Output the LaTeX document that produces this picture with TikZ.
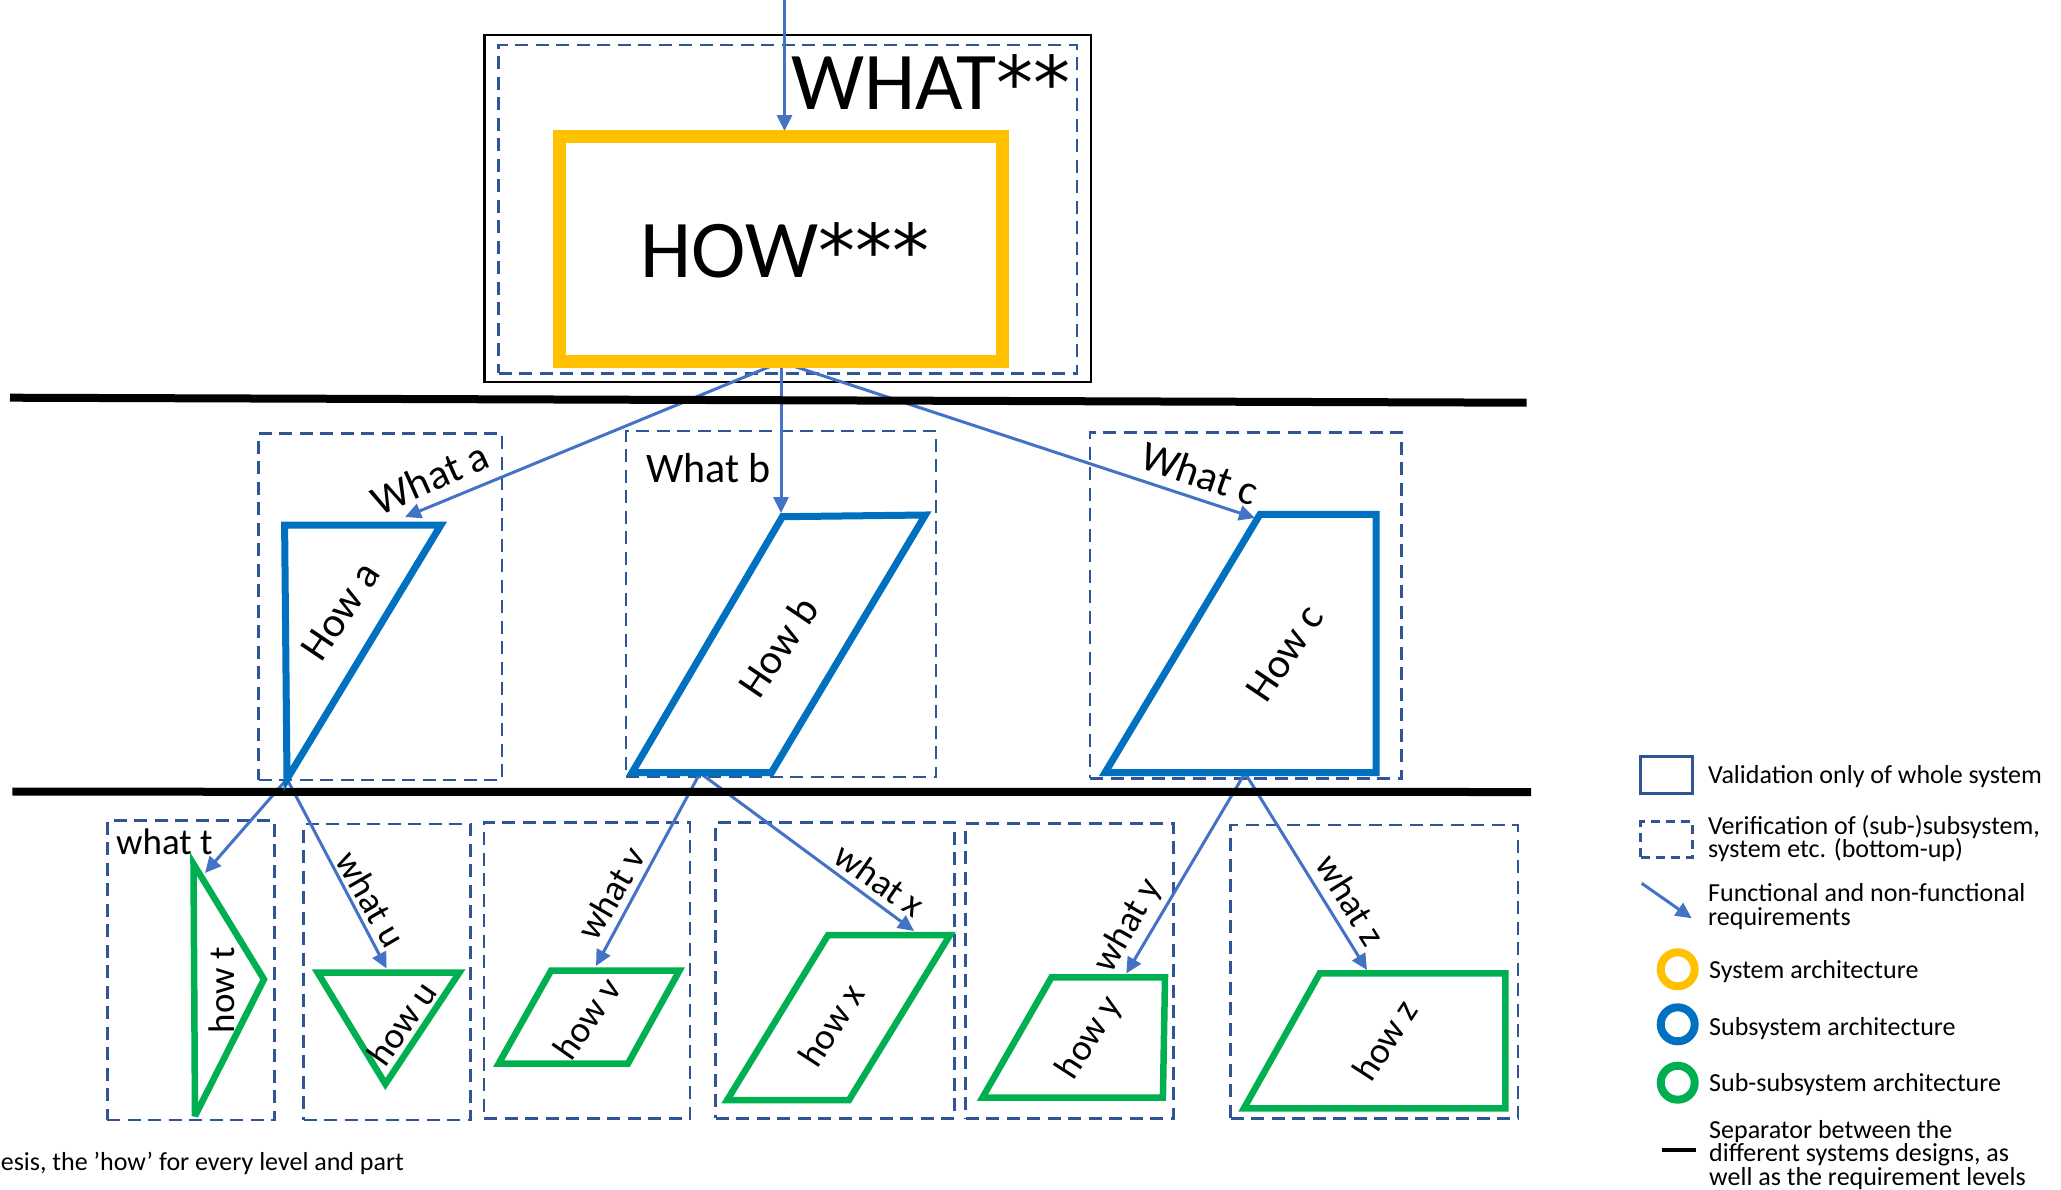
\documentclass[tikz,border=0pt]{standalone}
\usepackage{fontspec}
\setmainfont{Carlito}
\newfontfamily\astfont{DejaVu Sans}
\usetikzlibrary{arrows.meta}
\definecolor{sysorange}{HTML}{FFC000}
\definecolor{subblue}{HTML}{0070C0}
\definecolor{subgreen}{HTML}{00B050}
\definecolor{reqblue}{HTML}{4472C4}
\definecolor{verblue}{HTML}{2F5597}
\begin{document}
\begin{tikzpicture}[x=1pt,y=-1pt,
  verbox/.style={draw=verblue, line width=2.7pt, dash pattern=on 13pt off 7.5pt, inner sep=0pt, rectangle},
  valbox/.style={draw=black, line width=2.5pt, inner sep=0pt, rectangle},
  req/.style={draw=reqblue, line width=3pt, -{Triangle[length=16pt,width=15pt]}},
  sysshape/.style={draw=sysorange, line width=13pt, inner sep=0pt, rectangle},
  subshape/.style={draw=subblue, line width=7pt, line join=miter, miter limit=5},
  subsubshape/.style={draw=subgreen, line width=6.5pt, line join=miter, miter limit=4},
  sepline/.style={draw=black, line width=8pt},
  bigtxt/.style={inner sep=0pt, font=\fontsize{82}{90}\selectfont},
  midtxt/.style={inner sep=0pt, font=\fontsize{42}{48}\selectfont},
  lowtxt/.style={inner sep=0pt, font=\fontsize{37}{42}\selectfont},
  legtxt/.style={inner sep=0pt, anchor=base west, font=\fontsize{26}{28}\selectfont},
  legring/.style={circle, line width=8pt, minimum size=34pt, inner sep=0pt},
]
\fill[white] (0,0) rectangle (2061,1189);
\useasboundingbox (0,0) rectangle (2061,1189);

% ---------- top level ----------
\node[valbox, minimum width=606.2pt, minimum height=346.7pt] (outer) at (787.8,208.4) {};
\node[verbox, minimum width=578.4pt, minimum height=328.3pt] (topver) at (787.8,209.2) {};
\coordinate (topin) at (784.5,0);
\coordinate (howtop) at (784.5,131);
\coordinate (howbot) at (781,362);

% ---------- middle coordinates ----------
\coordinate (Ata) at (405,517);
\coordinate (Atb) at (781,513);
\coordinate (Atc) at (1255,518);
\coordinate (Abot) at (287,779);
\coordinate (Bbot) at (700,773);
\coordinate (Cbot) at (1245,773);

% ---------- bottom tips ----------
\coordinate (Tt) at (205,873);
\coordinate (Tu) at (386.6,968.5);
\coordinate (Tv) at (596,966);
\coordinate (Tx) at (914,931);
\coordinate (Ty) at (1126.3,973.5);
\coordinate (Tz) at (1367,970);

% ---------- dashed verification boxes ----------
\node[verbox, minimum width=243.2pt, minimum height=346.7pt] (va) at (380.4,606.7) {};
\node[verbox, minimum width=310pt, minimum height=346pt] (vb) at (781,604) {};
\node[verbox, minimum width=311.7pt, minimum height=346pt] (vc) at (1245.9,605.3) {};
\node[verbox, minimum width=167.6pt, minimum height=299.3pt] (vt) at (191,970.4) {};
\node[verbox, minimum width=167pt, minimum height=296pt] (vu) at (387,972) {};
\node[verbox, minimum width=206pt, minimum height=295.8pt] (vv) at (587,970.6) {};
\node[verbox, minimum width=238.8pt, minimum height=296pt] (vx) at (835.1,970.3) {};
\node[verbox, minimum width=207.6pt, minimum height=295pt] (vy) at (1069.5,970.8) {};
\node[verbox, minimum width=287.5pt, minimum height=293.5pt] (vz) at (1374.3,971.8) {};

% ---------- requirement arrows ----------
\draw[req] (topin) -- (howtop);
\draw[req] (howbot) -- (Ata);
\draw[req] (howbot) -- (Atb);
\draw[req] (howbot) -- (Atc);
\draw[req] (Abot) -- (Tt);
\draw[req] (Abot) -- (Tu);
\draw[req] (Bbot) -- (Tv);
\draw[req] (Bbot) -- (Tx);
\draw[req] (Cbot) -- (Ty);
\draw[req] (Cbot) -- (Tz);

% ---------- system architecture ----------
\node[sysshape, minimum width=443.4pt, minimum height=225.7pt] (how) at (780.7,248.9) {};
\node[bigtxt] (howlbl) at (785,250) {HOW{\astfont\fontsize{74}{80}\selectfont ***}};
\node[bigtxt] (whatlbl) at (931,82) {WHAT{\astfont\fontsize{74}{80}\selectfont **}};

% ---------- separators ----------
\draw[sepline] (10,397.7) coordinate (s1a) -- (1526.7,402.7) coordinate (s1b);
\draw[sepline] (12.3,791.7) coordinate (s2a) -- (1531,792) coordinate (s2b);

% ---------- subsystem shapes ----------
\draw[subshape] (284.6,525) -- (440.9,525) -- (Abot) -- cycle;
\draw[subshape] (782.4,516.7) -- (925.3,515) -- (771.3,772.7) -- (632,772.7) -- cycle;
\draw[subshape] (1260,514.3) -- (1376,514.3) -- (1376,772.7) -- (1105,772.7) -- cycle;

% ---------- sub-subsystem shapes ----------
\draw[subsubshape] (193.5,864) -- (264,979.3) -- (195,1116) -- cycle;
\draw[subsubshape] (317.7,972.7) -- (459.3,972.7) -- (385.4,1084) -- cycle;
\draw[subsubshape] (551,970.7) -- (679.4,970.7) -- (628,1063.5) -- (498.7,1063.5) -- cycle;
\draw[subsubshape] (828.1,935) -- (950,935) -- (849,1100) -- (727.2,1100) -- cycle;
\draw[subsubshape] (1051.5,977.3) -- (1165,977.3) -- (1162.9,1097.7) -- (982.4,1097.7) -- cycle;
\draw[subsubshape] (1319.8,973.3) -- (1505.4,973.3) -- (1505.4,1108.3) -- (1243.9,1108.3) -- cycle;

% ---------- middle labels ----------
\node[midtxt, rotate=24] (whata) at (430,478) {What a};
\node[midtxt, anchor=base west] (whatb) at (646,482) {What b};
\node[midtxt, rotate=-19] (whatc) at (1200,473) {What c};
\node[midtxt, rotate=56] (howa) at (341,611) {How a};
\node[midtxt, rotate=56] (howb) at (778,647) {How b};
\node[midtxt, rotate=56] (howc) at (1285,653) {How c};

% ---------- lower labels ----------
\node[lowtxt, anchor=base west] (whatt) at (116,854) {what t};
\node[lowtxt, rotate=90] (howt) at (222,990) {how t};
\node[lowtxt, rotate=-60] (whatu) at (371,899) {what u};
\node[lowtxt, rotate=55] (howu) at (402,1023) {how u};
\node[lowtxt, rotate=60] (whatv) at (611,893) {what v};
\node[lowtxt, rotate=55] (howv) at (587,1018) {how v};
\node[lowtxt, rotate=-35] (whatx) at (880,880) {what x};
\node[lowtxt, rotate=57] (howx) at (831,1025) {how x};
\node[lowtxt, rotate=60] (whaty) at (1128,926) {what y};
\node[lowtxt, rotate=57] (howy) at (1090,1038) {how y};
\node[lowtxt, rotate=-58] (whatz) at (1351,900) {what z};
\node[lowtxt, rotate=57] (howz) at (1385,1040) {how z};

% ---------- bottom-left caption ----------
\node[inner sep=0pt, anchor=base east, font=\fontsize{26}{28}\selectfont] (caption) at (404,1170) {esis, the ’how’ for every level and part};

% ---------- legend ----------
\node[draw=verblue, line width=2.5pt, inner sep=0pt, minimum width=51.6pt, minimum height=36.6pt] (legval) at (1666.5,775) {};
\node[legtxt] (legvalt) at (1708,783.3) {Validation only of whole system};
\node[verbox, line width=2.5pt, dash pattern=on 9pt off 6pt, minimum width=51.6pt, minimum height=35.6pt] (legver) at (1666.5,839.5) {};
\node[legtxt] (legvert1) at (1708,834.3) {Verification of (sub-)subsystem,};
\node[legtxt] (legvert2) at (1708,857.3) {system etc. (bottom-up)};
\coordinate (legarra) at (1641.7,883.3);
\coordinate (legarrb) at (1691.7,918.3);
\draw[req] (legarra) -- (legarrb);
\node[legtxt] (legreqt1) at (1708,901.7) {Functional and non-functional};
\node[legtxt] (legreqt2) at (1708,925) {requirements};
\node[legring, draw=sysorange] (legsys) at (1677.7,969.3) {};
\node[legtxt] (legsyst) at (1709,978.3) {System architecture};
\node[legring, draw=subblue] (legsub) at (1677.7,1024.3) {};
\node[legtxt] (legsubt) at (1709,1035) {Subsystem architecture};
\node[legring, draw=subgreen] (legsubsub) at (1677.7,1082.7) {};
\node[legtxt] (legsubsubt) at (1709,1091.7) {Sub-subsystem architecture};
\coordinate (legsepa) at (1661.7,1150);
\coordinate (legsepb) at (1696,1150);
\draw[draw=black, line width=3.5pt] (legsepa) -- (legsepb);
\node[legtxt] (legsept1) at (1709,1138.3) {Separator between the};
\node[legtxt] (legsept2) at (1709,1161.7) {different systems designs, as};
\node[legtxt] (legsept3) at (1709,1185) {well as the requirement levels};
\end{tikzpicture}
\end{document}
